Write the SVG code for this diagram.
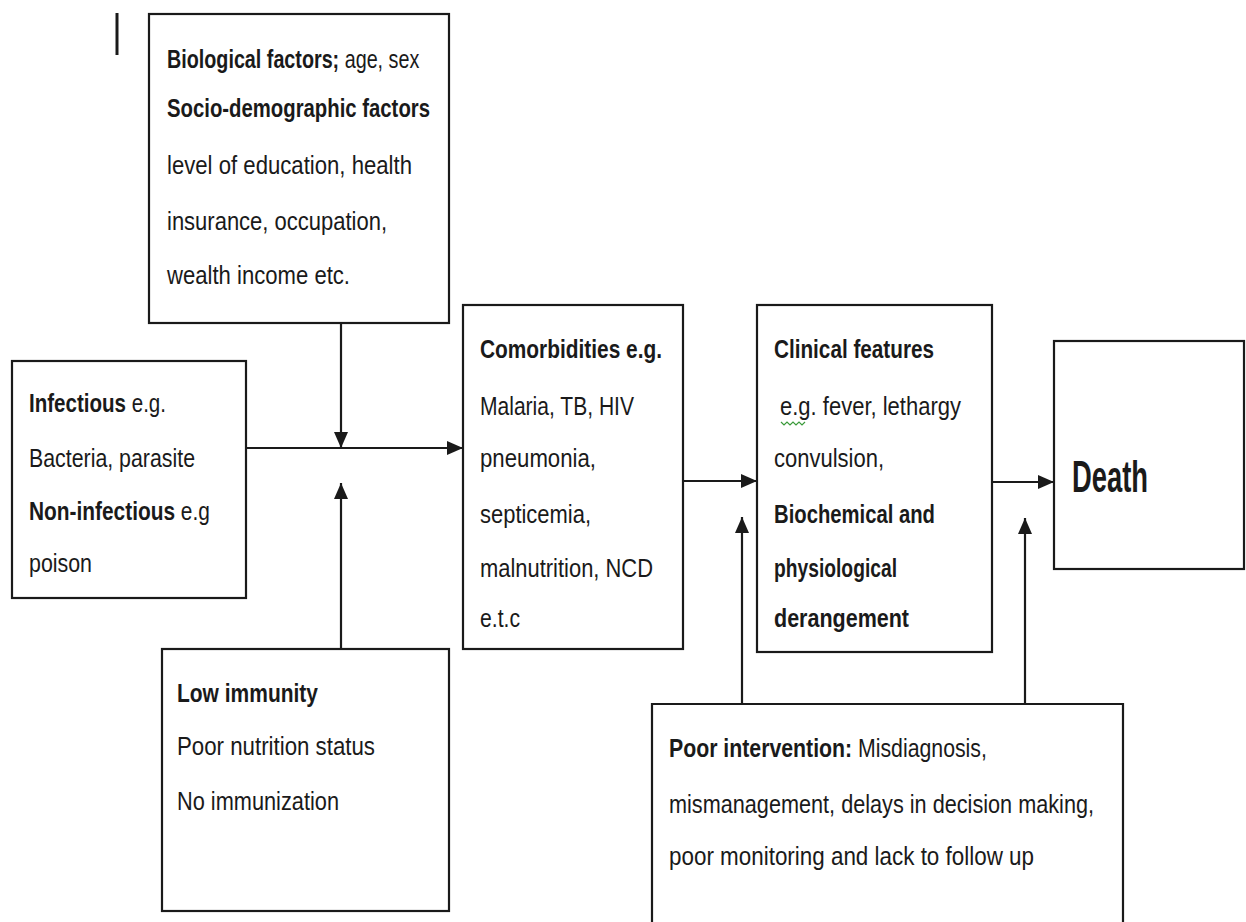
<svg xmlns="http://www.w3.org/2000/svg" width="1246" height="922" viewBox="0 0 1246 922">
<style>
.box{fill:#fff;stroke:#1a1a1a;stroke-width:2.2}
.t{font-family:"Liberation Sans",Arial,sans-serif;font-size:25px;fill:#1a1a1a}
.b{font-weight:bold}
.c{stroke:#1a1a1a;stroke-width:2.2;fill:none}
</style>
<defs>
<marker id="ah" markerUnits="userSpaceOnUse" markerWidth="16" markerHeight="14" refX="16" refY="7" orient="auto">
<path d="M0,0 L16,7 L0,14 z" fill="#1a1a1a"/>
</marker>
</defs>
<rect x="0" y="0" width="1246" height="922" fill="#fff"/>
<line x1="117" y1="13" x2="117" y2="55" stroke="#1a1a1a" stroke-width="3"/>

<g id="connectors">
<line class="c" x1="246" y1="448" x2="463" y2="448" marker-end="url(#ah)"/>
<line class="c" x1="341" y1="323" x2="341" y2="448" marker-end="url(#ah)"/>
<line class="c" x1="341" y1="649" x2="341" y2="483" marker-end="url(#ah)"/>
<line class="c" x1="683" y1="481" x2="757" y2="481" marker-end="url(#ah)"/>
<line class="c" x1="742" y1="704" x2="742" y2="517" marker-end="url(#ah)"/>
<line class="c" x1="992" y1="482" x2="1054" y2="482" marker-end="url(#ah)"/>
<line class="c" x1="1025" y1="704" x2="1025" y2="518" marker-end="url(#ah)"/>
</g>

<g id="biological">
<rect class="box" x="149" y="14" width="300" height="309"/>
<text class="t" transform="translate(167,68) scale(0.79,1)" x="0" y="0"><tspan class="b">Biological  factors;</tspan> age, sex</text>
<text class="t b" x="167" y="117" textLength="263" lengthAdjust="spacingAndGlyphs">Socio-demographic  factors</text>
<text class="t" x="167" y="174" textLength="245" lengthAdjust="spacingAndGlyphs">level of education, health</text>
<text class="t" x="167" y="230" textLength="220" lengthAdjust="spacingAndGlyphs">insurance, occupation,</text>
<text class="t" x="167" y="284" textLength="183" lengthAdjust="spacingAndGlyphs">wealth  income etc.</text>
</g>

<g id="infectious">
<rect class="box" x="12" y="361" width="234" height="237"/>
<text class="t" transform="translate(29,412) scale(0.822,1)" x="0" y="0"><tspan class="b">Infectious</tspan> e.g.</text>
<text class="t" x="29" y="467" textLength="166" lengthAdjust="spacingAndGlyphs">Bacteria, parasite</text>
<text class="t" transform="translate(29,520) scale(0.835,1)" x="0" y="0"><tspan class="b">Non-infectious</tspan> e.g</text>
<text class="t" x="29" y="572" textLength="63" lengthAdjust="spacingAndGlyphs">poison</text>
</g>

<g id="comorbidities">
<rect class="box" x="463" y="305" width="220" height="344"/>
<text class="t b" x="480" y="358" textLength="182" lengthAdjust="spacingAndGlyphs">Comorbidities e.g.</text>
<text class="t" x="480" y="415" textLength="154" lengthAdjust="spacingAndGlyphs">Malaria, TB, HIV</text>
<text class="t" x="480" y="467" textLength="116" lengthAdjust="spacingAndGlyphs">pneumonia,</text>
<text class="t" x="480" y="523" textLength="111" lengthAdjust="spacingAndGlyphs">septicemia,</text>
<text class="t" x="480" y="577" textLength="173" lengthAdjust="spacingAndGlyphs">malnutrition, NCD</text>
<text class="t" x="480" y="627" textLength="40" lengthAdjust="spacingAndGlyphs">e.t.c</text>
</g>

<g id="clinical">
<rect class="box" x="757" y="305" width="235" height="347"/>
<text class="t b" x="774" y="358" textLength="160" lengthAdjust="spacingAndGlyphs">Clinical  features</text>
<text class="t" x="780" y="415" textLength="181" lengthAdjust="spacingAndGlyphs">e.g. fever, lethargy</text>
<path d="M781,422 l3,3 l3,-3 l3,3 l3,-3 l3,3 l3,-3 l3,3 l3,-3" fill="none" stroke="#3a9a3a" stroke-width="1.2"/>
<text class="t" x="774" y="467" textLength="110" lengthAdjust="spacingAndGlyphs">convulsion,</text>
<text class="t b" x="774" y="523" textLength="161" lengthAdjust="spacingAndGlyphs">Biochemical  and</text>
<text class="t b" x="774" y="577" textLength="123" lengthAdjust="spacingAndGlyphs">physiological</text>
<text class="t b" x="774" y="627" textLength="135" lengthAdjust="spacingAndGlyphs">derangement</text>
</g>

<g id="death">
<rect class="box" x="1054" y="341" width="190" height="228"/>
<text class="t b" x="1072" y="492" textLength="76" lengthAdjust="spacingAndGlyphs" style="font-size:44px">Death</text>
</g>

<g id="lowimmunity">
<rect class="box" x="162" y="649" width="287" height="262"/>
<text class="t b" x="177" y="702" textLength="141" lengthAdjust="spacingAndGlyphs">Low immunity</text>
<text class="t" x="177" y="755" textLength="198" lengthAdjust="spacingAndGlyphs">Poor nutrition status</text>
<text class="t" x="177" y="810" textLength="162" lengthAdjust="spacingAndGlyphs">No immunization</text>
</g>

<g id="poorintervention">
<path class="box" d="M652,924 L652,704 L1123,704 L1123,924"/>
<text class="t" transform="translate(669,757) scale(0.851,1)" x="0" y="0"><tspan class="b">Poor intervention:</tspan> Misdiagnosis,</text>
<text class="t" x="669" y="813" textLength="425" lengthAdjust="spacingAndGlyphs">mismanagement,  delays in decision making,</text>
<text class="t" x="669" y="865" textLength="365" lengthAdjust="spacingAndGlyphs">poor monitoring and lack to follow up</text>
</g>
</svg>
